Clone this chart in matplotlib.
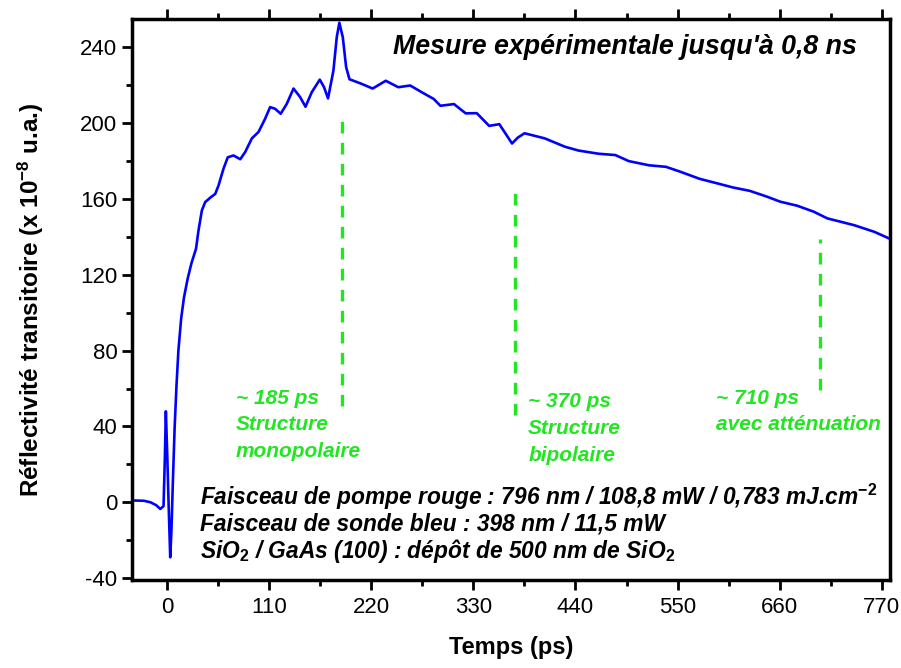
import numpy as np
import matplotlib.pyplot as plt
from matplotlib.ticker import MultipleLocator

plt.rcParams['font.family'] = ['Liberation Sans', 'DejaVu Sans']
plt.rcParams['axes.unicode_minus'] = False
plt.rcParams['mathtext.fontset'] = 'custom'
plt.rcParams['mathtext.rm'] = 'Liberation Sans'
plt.rcParams['mathtext.bf'] = 'Liberation Sans:bold'
plt.rcParams['mathtext.it'] = 'Liberation Sans:italic'

# transient reflectivity
time_ps = [-38, -25, -18, -12, -7.5, -4, -2.5, -1.5, 0, 1.5, 3.2, 4.5, 6, 8, 10, 12, 15, 18,
           22, 26, 31, 33.7, 37.3, 40.9, 46.3, 51.7, 55.3, 60.6, 65.2, 71.4, 78.7, 84,
           91.2, 98.4, 105.5, 110.9, 116.3, 122.3, 128.9, 136.1, 143.2, 149, 155.8,
           164.4, 169, 173.3, 179.1, 182.7, 185.5, 189.2, 192.8, 196.4, 208.3, 221.4,
           235.5, 249, 261.8, 276.3, 287.2, 294.4, 309, 321.7, 333.6, 347, 357.9, 365.2,
           371.6, 377.8, 385.1, 406.9, 428.6, 443.1, 464.9, 483, 497.5, 519.3, 537.4,
           551.9, 573.6, 591.7, 609.8, 628, 646.1, 660.7, 678.8, 696.9, 711.4, 740.4,
           762.1, 776.7, 779]
signal = [1, 0.8, 0, -1.5, -3.5, -2, 25, 48, 25, -1.5, -29, -15, 10, 40, 62, 80, 97, 108,
          118, 126, 133.8, 143.5, 154, 158.4, 160.7, 162.7, 167.2, 176, 182, 183, 181,
          184.8, 192, 195.4, 202.4, 208.5, 207.6, 205, 210.3, 218.3, 213.8, 208.7, 216.4,
          223, 219, 213.1, 227.8, 245.4, 253, 245.4, 229.6, 223.2, 221, 218.3,
          222.4, 219, 219.9, 215.8, 212.8, 209.2, 210.1, 205.2, 205.3, 198.6, 199.5, 194.1,
          189.3, 192.4, 194.7, 192, 187.6, 185.6, 183.9, 183.2, 180, 177.8, 177,
          174.6, 170.7, 168.4, 166.1, 164.3, 161.3, 158.6, 156.5, 153.3, 149.8, 146.2,
          142.7, 139.5, 139]

# green markers
mark_x = [188, 375, 704]
mark_y0 = [51, 46, 59]
mark_y1 = [203, 163, 139]
mark_labels = ['~ 185 ps\nStructure\nmonopolaire',
               '~ 370 ps\nStructure\nbipolaire',
               '~ 710 ps\navec atténuation']
label_x = [74, 389, 591]
label_y = [60, 58, 60]

green = '#22e622'

fig = plt.figure(figsize=(9.01, 6.68), dpi=100)
ax = fig.add_axes([0.1465, 0.1317, 0.8413, 0.8399])

ax.plot(time_ps, signal, color='#0000ff', lw=1.9)

for x, y0, y1 in zip(mark_x, mark_y0, mark_y1):
    ax.plot([x, x], [y0, y1], color=green, lw=2.4, ls=(0, (3.5, 2.8)))

for x, y, s in zip(label_x, label_y, mark_labels):
    ax.text(x, y, s, color=green, fontsize=15, fontweight='bold', fontstyle='italic',
            va='top', ha='left', linespacing=1.52)

ax.text(0.956, 0.950, "Mesure expérimentale jusqu'à 0,8 ns", transform=ax.transAxes,
        fontsize=19.3, fontweight='bold', fontstyle='italic', ha='right', va='center')

info = ['Faisceau de pompe rouge : 796 nm / 108,8 mW / 0,783 mJ.cm$^{\\mathbf{-2}}$',
        'Faisceau de sonde bleu : 398 nm / 11,5 mW',
        'SiO$_{\\mathbf{2}}$ / GaAs (100) : dépôt de 500 nm de SiO$_{\\mathbf{2}}$']
for i, s in enumerate(info):
    ax.text(35.5, 2.6 - i * 14.2, s, fontsize=16.4, fontweight='bold', fontstyle='italic',
            ha='left', va='center')

ax.set_xlim(-38, 779)
ax.set_ylim(-41, 255)
ax.xaxis.set_major_locator(MultipleLocator(110))
ax.xaxis.set_minor_locator(MultipleLocator(55))
ax.yaxis.set_major_locator(MultipleLocator(40))
ax.yaxis.set_minor_locator(MultipleLocator(20))
ax.tick_params(which='both', direction='out', width=2, top=True, right=False,
               labelsize=16)
ax.tick_params(which='major', length=7)
ax.tick_params(which='minor', length=4)
ax.tick_params(axis='x', pad=5)
for sp in ax.spines.values():
    sp.set_linewidth(2.5)

ax.set_xlabel('Temps (ps)', fontsize=17, fontweight='bold', va='top')
ax.xaxis.set_label_coords(0.5, -0.1)
ax.set_ylabel('Réflectivité transitoire (x 10$^{\\mathbf{-8}}$ u.a.)', fontsize=17.5,
              fontweight='bold')
ax.yaxis.set_label_coords(-0.113, 0.5)

fig.savefig('out.png', dpi=100)
